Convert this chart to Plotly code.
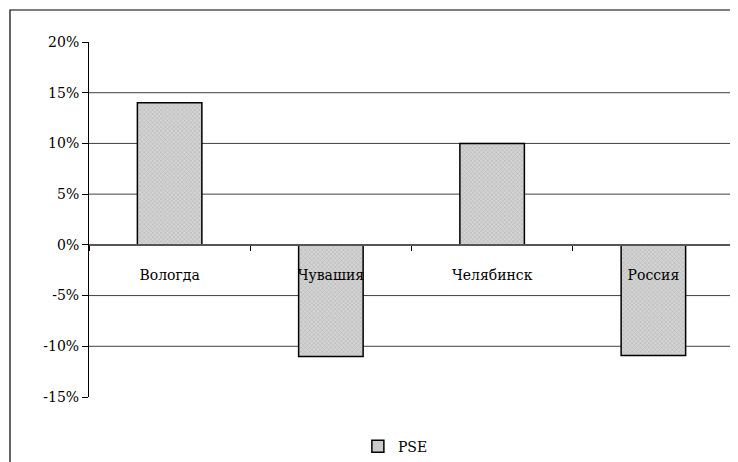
import plotly.graph_objects as go

categories = ["Вологда", "Чувашия", "Челябинск", "Россия"]
pse_values = [0.14, -0.11, 0.10, -0.109]
y_ticks = [-0.15, -0.10, -0.05, 0.0, 0.05, 0.10, 0.15, 0.20]
y_tick_labels = ["-15%", "-10%", "-5%", "0%", "5%", "10%", "15%", "20%"]
grid_values = [-0.10, -0.05, 0.05, 0.10, 0.15]

FONT = "DejaVu Serif"
y_min, y_max = -0.15, 0.20

fig = go.Figure()
fig.add_trace(go.Bar(
    x=categories, y=pse_values, name="PSE", width=0.4,
    marker=dict(color="#d4d4d4", line=dict(color="black", width=1.5),
                pattern=dict(shape="x", size=3, solidity=0.3, fgcolor="#8a8a8a", bgcolor="#d4d4d4")),
))

shapes = []
for g in grid_values:
    shapes.append(dict(type="line", xref="paper", yref="y", x0=0, x1=1, y0=g, y1=g,
                       line=dict(color="#404040", width=1), layer="below"))
# outer frame
shapes.append(dict(type="rect", xref="paper", yref="paper", x0=-0.1225, x1=1.0047,
                   y0=-0.19, y1=1.0901, line=dict(color="black", width=1.2), layer="below"))
fig.update_layout(shapes=shapes)

zero_pos = (0 - y_min) / (y_max - y_min)

fig.update_layout(
    width=730, height=454,
    margin=dict(l=81, r=4, t=34, b=65, autoexpand=False),
    paper_bgcolor="white", plot_bgcolor="white",
    font=dict(family=FONT, size=14, color="black"),
    showlegend=True,
    legend=dict(orientation="h", x=0.475, xanchor="center", y=-0.095, yanchor="top",
                bgcolor="rgba(0,0,0,0)", font=dict(family=FONT, size=14), itemwidth=30),
    xaxis=dict(anchor="free", position=zero_pos, showline=True, linecolor="#555555", linewidth=1.5,
               ticks="outside", ticklen=5, tickcolor="black", tickson="boundaries",
               showgrid=False, zeroline=False, ticklabelstandoff=18,
               tickfont=dict(family=FONT, size=14)),
    yaxis=dict(range=[y_min, y_max], tickvals=y_ticks, ticktext=y_tick_labels,
               showline=True, linecolor="black", linewidth=1, ticks="outside", ticklen=6,
               tickcolor="black", showgrid=False, zeroline=False,
               tickfont=dict(family=FONT, size=14)),
    bargap=0.6,
)

fig.write_html("out.html")
